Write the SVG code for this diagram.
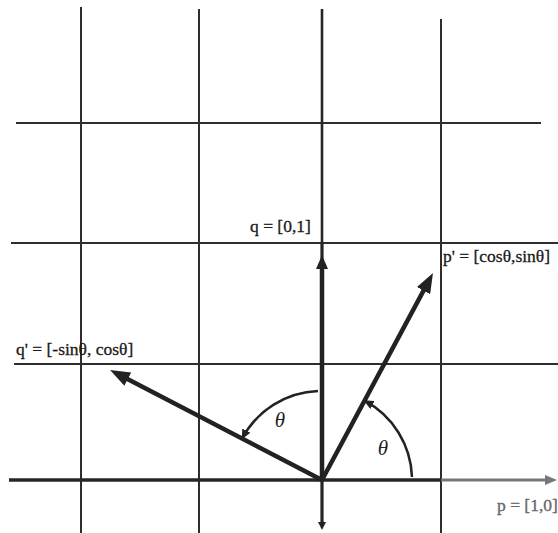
<svg xmlns="http://www.w3.org/2000/svg" width="558" height="533" viewBox="0 0 558 533">
<style>
.grid{stroke:#2e2e2e;stroke-width:2;fill:none}
.axis{stroke:#262626;stroke-width:3.2;fill:none}
.vec{stroke:#222;stroke-width:4.5;fill:none}
.arc{stroke:#222;stroke-width:2.5;fill:none}
.lbl{font-family:"Liberation Serif","Times New Roman",serif;font-size:17.5px;fill:#1a1a1a;stroke:#1a1a1a;stroke-width:0.3}
.th{font-family:"Liberation Serif","Times New Roman",serif;font-size:21px;font-style:italic;fill:#222}
</style>
<defs>
<marker id="head" markerUnits="userSpaceOnUse" viewBox="0 0 20 15" markerWidth="20" markerHeight="15" refX="8" refY="7.5" orient="auto">
<path d="M0,0 L20,7.5 L0,15 z" fill="#222"/>
</marker>
<marker id="headS" markerUnits="userSpaceOnUse" viewBox="0 0 14 12" markerWidth="14" markerHeight="12" refX="6" refY="6" orient="auto">
<path d="M0,0 L14,6 L0,12 z" fill="#222"/>
</marker>
<marker id="headA" markerUnits="userSpaceOnUse" viewBox="0 0 10 9" markerWidth="10" markerHeight="9" refX="9" refY="4.5" orient="auto">
<path d="M0,0 L10,4.5 L0,9 z" fill="#222"/>
</marker>
<marker id="headG" markerUnits="userSpaceOnUse" viewBox="0 0 12 10" markerWidth="12" markerHeight="10" refX="4" refY="5" orient="auto">
<path d="M0,0 L12,5 L0,10 z" fill="#777"/>
</marker>
<marker id="headD" markerUnits="userSpaceOnUse" viewBox="0 0 8 8" markerWidth="8" markerHeight="8" refX="3" refY="4" orient="auto">
<path d="M0,0 L8,4 L0,8 z" fill="#222"/>
</marker>
</defs>
<g id="grid">
<line class="grid" x1="81" y1="7" x2="81" y2="533"/>
<line class="grid" x1="199" y1="9" x2="199" y2="533"/>
<line class="grid" x1="441" y1="19" x2="441" y2="533"/>
<line class="grid" x1="16" y1="123" x2="541" y2="123"/>
<line class="grid" x1="11" y1="243" x2="558" y2="243"/>
<line class="grid" x1="14" y1="364" x2="558" y2="364"/>
</g>
<g id="axes">
<line class="axis" x1="322" y1="9" x2="322" y2="243" style="stroke-width:2.6"/>
<line class="axis" x1="322" y1="243" x2="322" y2="525" marker-end="url(#headD)"/>
<line class="axis" x1="9" y1="480" x2="441" y2="480" style="stroke-width:3.6"/>
<line x1="441" y1="480" x2="549" y2="480" stroke="#777" stroke-width="3" marker-end="url(#headG)"/>
</g>
<g id="connectors">
<line id="vec-q" class="vec" x1="322" y1="480" x2="322" y2="263" marker-end="url(#headS)"/>
<line id="vec-p-prime" class="vec" x1="322" y1="480" x2="427.3" y2="283.6" marker-end="url(#head)"/>
<line id="vec-q-prime" class="vec" x1="322" y1="480" x2="120.7" y2="375.5" marker-end="url(#head)"/>
<path id="arc-right" class="arc" d="M412,477 A90,90 0 0 0 364.5,400.7" marker-end="url(#headA)"/>
<path id="arc-left" class="arc" d="M318,391 A90,90 0 0 0 242.1,438.5" marker-end="url(#headA)"/>
</g>
<g id="label-q"><text class="lbl" x="250" y="232">q = [0,1]</text></g>
<g id="label-p-prime"><text class="lbl" x="443" y="262">p' = [cosθ,sinθ]</text></g>
<g id="label-q-prime"><text class="lbl" x="16" y="355">q' = [-sinθ, cosθ]</text></g>
<g id="label-p"><text class="lbl" x="497" y="511" style="fill:#666;stroke:#666">p = [1,0]</text></g>
<g id="theta-left"><text class="th" x="280" y="427" text-anchor="middle">θ</text></g>
<g id="theta-right"><text class="th" x="383" y="455" text-anchor="middle">θ</text></g>
</svg>
